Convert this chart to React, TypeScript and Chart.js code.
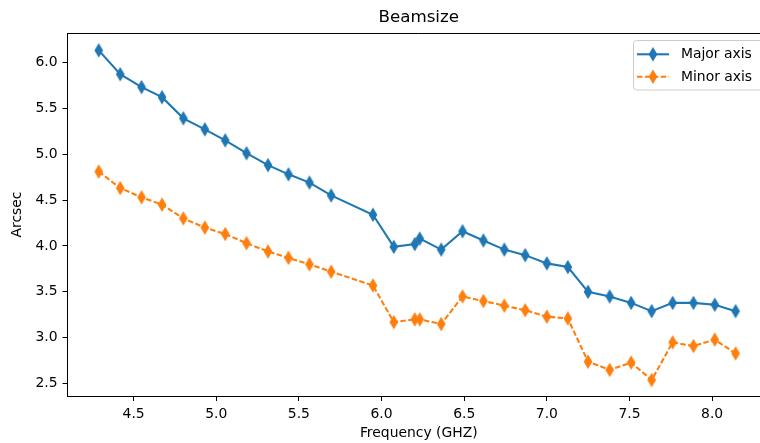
import React, { useEffect, useRef } from 'react';
import { Chart, registerables } from 'chart.js';

Chart.register(...registerables);

const frequencies = [4.289, 4.419, 4.548, 4.672, 4.801, 4.931, 5.054, 5.183, 5.313, 5.437, 5.564, 5.695, 5.948, 6.074, 6.201, 6.231, 6.361, 6.49, 6.616, 6.743, 6.869, 7.0, 7.127, 7.249, 7.38, 7.51, 7.634, 7.761, 7.887, 8.016, 8.142];
const majorAxis = [6.13, 5.87, 5.73, 5.62, 5.39, 5.27, 5.15, 5.01, 4.88, 4.78, 4.69, 4.55, 4.34, 3.99, 4.02, 4.08, 3.96, 4.16, 4.06, 3.96, 3.9, 3.81, 3.77, 3.5, 3.45, 3.38, 3.29, 3.38, 3.38, 3.36, 3.29];
const minorAxis = [4.81, 4.63, 4.53, 4.45, 4.3, 4.2, 4.13, 4.03, 3.94, 3.87, 3.8, 3.72, 3.57, 3.17, 3.2, 3.2, 3.15, 3.45, 3.4, 3.35, 3.3, 3.23, 3.21, 2.74, 2.65, 2.73, 2.54, 2.95, 2.91, 2.98, 2.83];
const xTicks = [4.5, 5.0, 5.5, 6.0, 6.5, 7.0, 7.5, 8.0];
const yTicks = [2.5, 3.0, 3.5, 4.0, 4.5, 5.0, 5.5, 6.0];
const seriesLabels = ['Major axis', 'Minor axis'];
const chartTitle = 'Beamsize';
const xTitle = 'Frequency (GHZ)';
const yTitle = 'Arcsec';

const BLUE = '#1f77b4';
const ORANGE = '#ff7f0e';
const FONT = 'DejaVu Sans';
const TEXT = '#000000';

function makeDiamond(color: string): HTMLCanvasElement {
  const c = document.createElement('canvas');
  c.width = 12;
  c.height = 16;
  const ctx = c.getContext('2d')!;
  const cx = 6, cy = 8, hw = 3.54, hh = 5.9;
  ctx.beginPath();
  ctx.moveTo(cx, cy - hh);
  ctx.lineTo(cx + hw, cy);
  ctx.lineTo(cx, cy + hh);
  ctx.lineTo(cx - hw, cy);
  ctx.closePath();
  ctx.fillStyle = color;
  ctx.fill();
  ctx.strokeStyle = color;
  ctx.lineWidth = 1.39;
  ctx.stroke();
  return c;
}

export default function App() {
  const ref = useRef<HTMLCanvasElement | null>(null);

  useEffect(() => {
    if (!ref.current) return;
    const blueMarker = makeDiamond(BLUE);
    const orangeMarker = makeDiamond(ORANGE);

    const frameAndLegend = {
      id: 'frameAndLegend',
      afterDraw(chart: any) {
        const ctx = chart.ctx;
        const a = chart.chartArea;
        ctx.save();
        // top spine
        ctx.strokeStyle = '#000';
        ctx.lineWidth = 1;
        ctx.beginPath();
        ctx.moveTo(a.left, Math.round(a.top) + 0.5);
        ctx.lineTo(a.right, Math.round(a.top) + 0.5);
        ctx.stroke();

        // title, centred over the axes
        ctx.fillStyle = TEXT;
        ctx.font = `16.7px "${FONT}"`;
        ctx.textAlign = 'center';
        ctx.textBaseline = 'middle';
        ctx.fillText(chartTitle, (a.left + a.right) / 2, 18);

        // legend (frame extends past the visible edge, as in the original)
        const bx = 633.5, by = 40.5, bw = 130, bh = 49.5, r = 3;
        ctx.beginPath();
        ctx.moveTo(bx + r, by);
        ctx.lineTo(bx + bw - r, by);
        ctx.arcTo(bx + bw, by, bx + bw, by + r, r);
        ctx.lineTo(bx + bw, by + bh - r);
        ctx.arcTo(bx + bw, by + bh, bx + bw - r, by + bh, r);
        ctx.lineTo(bx + r, by + bh);
        ctx.arcTo(bx, by + bh, bx, by + bh - r, r);
        ctx.lineTo(bx, by + r);
        ctx.arcTo(bx, by, bx + r, by, r);
        ctx.closePath();
        ctx.fillStyle = 'rgba(255,255,255,0.8)';
        ctx.fill();
        ctx.strokeStyle = '#cccccc';
        ctx.lineWidth = 1;
        ctx.stroke();

        const rows = [54.3, 76.7];
        chart.data.datasets.forEach((ds: any, i: number) => {
          const y = rows[i];
          ctx.strokeStyle = ds.borderColor;
          ctx.lineWidth = 2.08;
          ctx.setLineDash(ds.borderDash || []);
          ctx.lineCap = 'butt';
          ctx.beginPath();
          ctx.moveTo(637, y);
          ctx.lineTo(669, y);
          ctx.stroke();
          ctx.setLineDash([]);
          const m = ds.pointStyle as HTMLCanvasElement;
          ctx.drawImage(m, 653 - m.width / 2, y - m.height / 2);
          ctx.fillStyle = TEXT;
          ctx.font = `13.9px "${FONT}"`;
          ctx.textAlign = 'left';
          ctx.textBaseline = 'middle';
          ctx.fillText(ds.label, 681, y + 0.5);
        });
        ctx.restore();
      },
    };

    const chart = new Chart(ref.current, {
      type: 'line',
      data: {
        datasets: [
          {
            label: seriesLabels[0],
            data: frequencies.map((f, i) => ({ x: f, y: majorAxis[i] })),
            borderColor: BLUE,
            backgroundColor: BLUE,
            borderWidth: 2.08,
            pointStyle: blueMarker as any,
            pointRadius: 6,
            tension: 0,
            fill: false,
          },
          {
            label: seriesLabels[1],
            data: frequencies.map((f, i) => ({ x: f, y: minorAxis[i] })),
            borderColor: ORANGE,
            backgroundColor: ORANGE,
            borderWidth: 2.08,
            borderDash: [5.5, 2.4],
            pointStyle: orangeMarker as any,
            pointRadius: 6,
            tension: 0,
            fill: false,
          },
        ],
      },
      options: {
        responsive: false,
        animation: false,
        devicePixelRatio: 1,
        layout: { padding: { left: 0, right: 20, top: 33, bottom: 0 } },
        plugins: {
          legend: { display: false },
          tooltip: { enabled: false },
          title: { display: false },
        },
        scales: {
          x: {
            type: 'linear',
            min: 4.1,
            max: 8.35,
            afterBuildTicks: (scale: any) => {
              scale.ticks = xTicks.map((v) => ({ value: v }));
            },
            afterFit: (scale: any) => {
              scale.height = 47;
              scale.paddingLeft = 0;
              scale.paddingRight = 0;
            },
            ticks: {
              color: TEXT,
              font: { family: FONT, size: 13.9 },
              padding: 5,
              maxRotation: 0,
              autoSkip: false,
              callback: (v: any) => Number(v).toFixed(1),
            },
            grid: { display: true, drawOnChartArea: false, drawTicks: true, tickLength: 5, color: '#000', lineWidth: 1 },
            border: { display: true, color: '#000', width: 1 },
            title: {
              display: true,
              text: xTitle,
              color: TEXT,
              font: { family: FONT, size: 13.9 },
              padding: { top: 0, bottom: 1 },
            },
          },
          y: {
            type: 'linear',
            min: 2.366,
            max: 6.319,
            afterBuildTicks: (scale: any) => {
              scale.ticks = yTicks.map((v) => ({ value: v }));
            },
            afterFit: (scale: any) => {
              scale.width = 67.5;
              scale.paddingTop = 0;
              scale.paddingBottom = 0;
            },
            ticks: {
              color: TEXT,
              font: { family: FONT, size: 13.9 },
              padding: 5,
              autoSkip: false,
              callback: (v: any) => Number(v).toFixed(1),
            },
            grid: { display: true, drawOnChartArea: false, drawTicks: true, tickLength: 5, color: '#000', lineWidth: 1 },
            border: { display: true, color: '#000', width: 1 },
            title: {
              display: true,
              text: yTitle,
              color: TEXT,
              font: { family: FONT, size: 13.9 },
              padding: { top: 9, bottom: 0 },
            },
          },
        },
      },
      plugins: [frameAndLegend],
    });

    return () => chart.destroy();
  }, []);

  return (
    <div style={{ position: 'fixed', left: 0, top: 0, width: 760, height: 443, overflow: 'hidden', background: '#fff' }}>
      <canvas ref={ref} width={790} height={443} style={{ display: 'block', width: 790, height: 443 }} />
    </div>
  );
}
